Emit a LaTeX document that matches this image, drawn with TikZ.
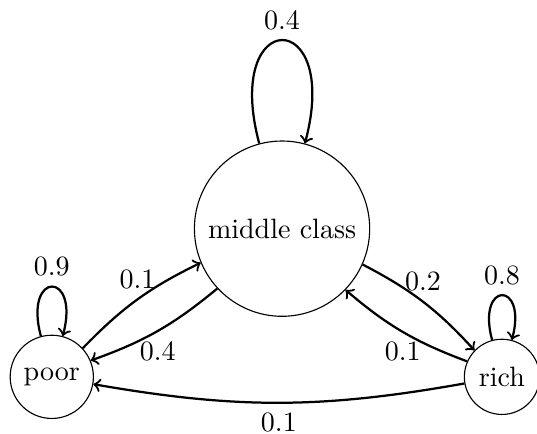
\documentclass[tikz,border=0pt]{standalone}

\begin{document}
\begin{tikzpicture}[
    state/.style={circle, draw, thin},
    trans/.style={->, thick}
]
    \useasboundingbox (-3.54,-2.57) rectangle (3.20,2.87);

    % States
    \node[state, minimum size=2.2cm] (middle) at (0,0) {middle class};
    \node[state, minimum size=1.03cm] (poor) at (-2.89,-1.86) {poor};
    \node[state] (rich) at (2.76,-1.86) {rich};

    % Self loops
    \draw[trans] (middle) to[loop above] node[above] {0.4} (middle);
    \draw[trans] (poor) to[loop above] node[above] {0.9} (poor);
    \draw[trans] (rich) to[loop above] node[above] {0.8} (rich);

    % Transitions between states
    \draw[trans] (poor) to[bend left=10] node[above] {0.1} (middle);
    \draw[trans] (middle) to[bend left=10] node[below] {0.4} (poor);
    \draw[trans] (middle) to[bend left=10] node[above] {0.2} (rich);
    \draw[trans] (rich) to[bend left=10] node[below] {0.1} (middle);
    \draw[trans] (rich) to[bend left=10] node[below] {0.1} (poor);

\end{tikzpicture}
\end{document}
